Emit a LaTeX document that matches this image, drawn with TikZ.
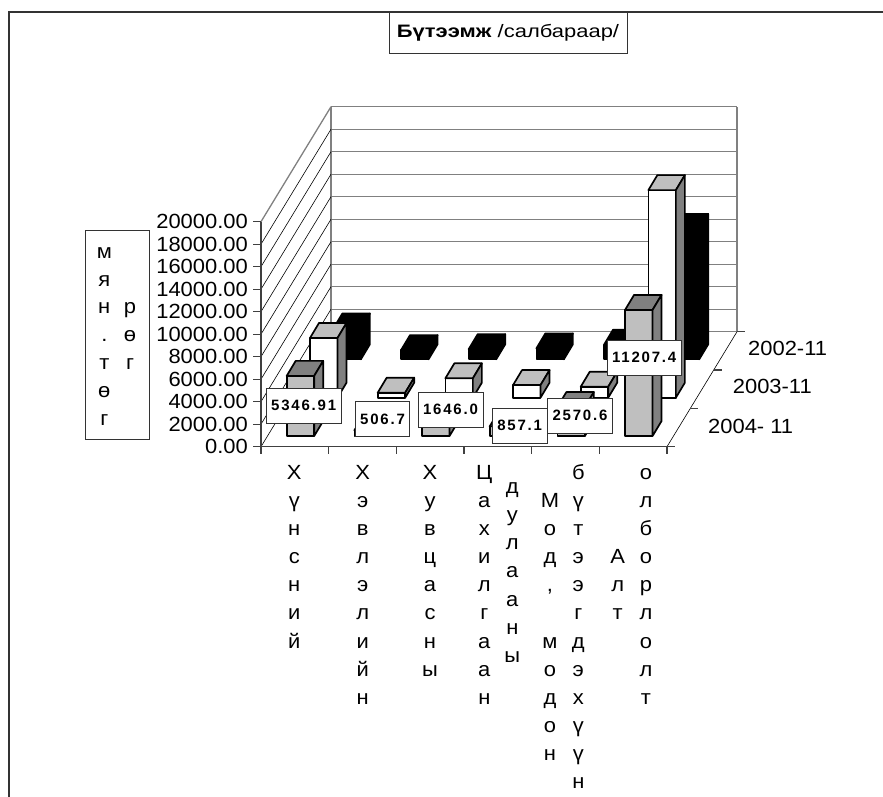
\documentclass[tikz,border=0pt]{standalone}
\usepackage{fontspec}
\setmainfont{Liberation Sans}[FakeStretch=1.07]
\newfontfamily\valuefont{Liberation Sans}[LetterSpace=12]
\newfontfamily\titlefont{Liberation Sans}[FakeStretch=1.22]

% one series of columns: #1 depth slot, #2 front, #3 top, #4 side, #5 values in thousands
\newcommand{\drawseries}[5]{%
    \foreach \v [count=\c from 0] in {#5} {
        \pgfmathsetmacro\xa{286.7+67.67*\c+23.33*#1}
        \pgfmathsetmacro\xb{\xa+27.5}
        \pgfmathsetmacro\yb{436-38.33*#1}
        \pgfmathsetmacro\yt{\yb-11.25*\v}
        \draw[barface, fill=#2] (\xa,\yb) rectangle (\xb,\yt);
        \draw[barface, fill=#3] (\xa,\yt) -- (\xb,\yt) -- ++(9,-15) -- ({\xa+9},{\yt-15}) -- cycle;
        \draw[barface, fill=#4] (\xb,\yb) -- ++(9,-15) -- ({\xb+9},{\yt-15}) -- (\xb,\yt) -- cycle;
    }%
}

\begin{document}
\begin{tikzpicture}[x=1pt, y=-1pt,
    frameline/.style={line width=2.2pt, color=black!80},
    wallgrid/.style={line width=1.3pt, color=wallgray},
    sidegrid/.style={line width=0.6pt, color=black},
    axisline/.style={line width=1.1pt, color=black!75},
    barface/.style={draw=black, line width=1.7pt, line join=round},
    ticklabel/.style={anchor=east, inner sep=0pt, font=\fontsize{20.5}{24}\selectfont},
    serieslabel/.style={anchor=west, inner sep=0pt, font=\fontsize{20.5}{24}\selectfont},
    catlabel/.style={anchor=north, align=center, inner sep=0pt, font=\fontsize{20.5}{28.1}\selectfont},
    unitlabel/.style={anchor=north, align=center, inner sep=0pt, font=\fontsize{20.5}{27.9}\selectfont},
    valuebox/.style={draw=black!80, fill=white, line width=0.8pt, inner xsep=5pt, inner ysep=0pt,
        minimum height=35pt, font=\valuefont\bfseries\fontsize{15}{18}\selectfont},
]
    % Colors
    \colorlet{barlight}{black!25}
    \colorlet{bardark}{black!50}
    \colorlet{wallgray}{black!50}

    \useasboundingbox (0,0) rectangle (883,797);

    % Frame
    \draw[frameline] (9,797) -- (9,12) -- (883,12);

    % Title
    \node[draw=black!80, line width=1pt, minimum width=238pt, minimum height=42pt, inner sep=0pt,
        font=\titlefont\fontsize{18}{21}\selectfont] (title) at (508,33) {\textbf{Бүтээмж} /салбараар/};

    % Back wall
    \foreach \k in {0,...,10}
        \draw[wallgrid] (331,{331.7-22.5*\k}) -- (737,{331.7-22.5*\k});
    \draw[wallgrid] (331,331.7) -- (331,106.7) (737,331.7) -- (737,106.7);

    % Side wall
    \foreach \k in {0,...,9}
        \draw[sidegrid] (261,{446.7-22.5*\k}) -- (331,{331.7-22.5*\k});
    \draw[wallgrid] (261,221.7) -- (331,106.7);

    % Floor
    \draw[sidegrid] (667,446.7) -- (737,331.7);

    % Columns, back series first
    \drawseries{2}{black}{black}{black}{2.74,0.82,0.90,0.97,1.30,11.59}
    \drawseries{1}{white}{barlight}{bardark}{5.31,0.44,1.72,1.12,0.97,18.45}
    \drawseries{0}{barlight}{bardark}{bardark}{5.34691,0.5067,1.646,0.8571,2.5706,11.2074}

    % Value axis
    \draw[axisline] (261,221.7) -- (261,446.7);
    \foreach \k/\lbl in {0/0.00, 1/2000.00, 2/4000.00, 3/6000.00, 4/8000.00, 5/10000.00,
            6/12000.00, 7/14000.00, 8/16000.00, 9/18000.00, 10/20000.00} {
        \draw[axisline] (253,{446.7-22.5*\k}) -- (261,{446.7-22.5*\k});
        \node[ticklabel] (tick\k) at (248,{446.7-22.5*\k}) {\lbl};
    }

    % Category axis
    \draw[axisline] (261,446.7) -- (667,446.7);
    \foreach \k in {0,...,6}
        \draw[axisline] ({261+67.67*\k},446.7) -- ++(0,7);

    % Series axis
    \foreach \k in {0,...,3}
        \draw[axisline] ({667+23.33*\k},{446.7-38.33*\k}) -- ++(8,0);
    \node[serieslabel] (s2002) at (748,348) {2002-11};
    \node[serieslabel] (s2003) at (732.7,386.7) {2003-11};
    \node[serieslabel] (s2004) at (708,426) {2004- 11};

    % Value labels
    \foreach \name/\x/\y/\txt in {food/303.7/405.8/5346.91, print/382.5/419.2/506.7,
            cloth/450.5/409.7/1646.0, power/519.7/425.5/857.1,
            wood/580/415.5/2570.6, gold/644.2/357.5/11207.4}
        \node[valuebox] (val-\name) at (\x,\y) {\txt};

    % Category labels
    \node[catlabel] (cat-food)   at (294.3,459.6) {\strut Х\\ү\\н\\с\\н\\и\\й};
    \node[catlabel] (cat-print)  at (362.7,459.6) {\strut Х\\э\\в\\л\\э\\л\\и\\й\\н};
    \node[catlabel] (cat-cloth)  at (430,459.6)   {\strut Х\\у\\в\\ц\\а\\с\\н\\ы};
    \node[catlabel] (cat-powa)   at (484.3,459.6) {\strut Ц\\а\\х\\и\\л\\г\\а\\а\\н};
    \node[catlabel] (cat-powb)   at (512.3,473.8) {\strut д\\у\\л\\а\\а\\н\\ы};
    \node[catlabel] (cat-wooda)  at (550,487.7)   {\strut М\\о\\д\\,\\\mbox{}\\м\\о\\д\\о\\н};
    \node[catlabel] (cat-woodb)  at (578.3,459.6) {\strut б\\ү\\т\\э\\э\\г\\д\\э\\х\\ү\\ү\\н};
    \node[catlabel] (cat-golda)  at (617.7,543.9) {\strut А\\л\\т};
    \node[catlabel] (cat-goldb)  at (646,459.6)   {\strut о\\л\\б\\о\\р\\л\\о\\л\\т};

    % Unit box
    \node[draw=black!80, line width=1pt, minimum width=64pt, minimum height=209pt, inner sep=0pt]
        (unitbox) at (117,334.7) {};
    \node[unitlabel] (unit-a) at (104.3,238.4) {\strut м\\я\\н\\.\\т\\ө\\г};
    \node[unitlabel] (unit-b) at (130,294.2)   {\strut р\\ө\\г};
\end{tikzpicture}
\end{document}
